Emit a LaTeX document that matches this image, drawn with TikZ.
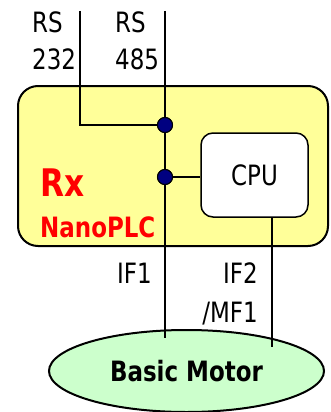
\documentclass[tikz,border=0pt]{standalone}
\usepackage{fontspec}
\setmainfont{DejaVu Sans}[FakeStretch=0.82]
\usetikzlibrary{shapes.geometric}
\definecolor{plcyellow}{HTML}{FFFF99}
\definecolor{motorgreen}{HTML}{CCFFCC}
\definecolor{dotblue}{HTML}{000080}
\begin{document}
\begin{tikzpicture}[
        x=1pt, y=-1pt,
        every node/.style={font=\fontsize{28}{32}\selectfont, inner sep=0pt},
        plcbox/.style={draw, line width=2pt, fill=plcyellow, rounded corners=20pt,
                       minimum width=310pt, minimum height=160pt},
        cpubox/.style={draw, line width=1.5pt, fill=white, rounded corners=12pt,
                       minimum width=107pt, minimum height=84pt},
        motor/.style={draw, ellipse, line width=2pt, fill=motorgreen,
                      minimum width=275pt, minimum height=82pt, font=\fontsize{28}{32}\selectfont\bfseries},
        plclabel/.style={text=red, font=\bfseries\fontsize{28}{32}\selectfont},
        wire/.style={draw, line width=1.2pt},
        junction/.style={circle, draw, line width=1pt, fill=dotblue, minimum size=15pt},
    ]
    \useasboundingbox (0,0) rectangle (331,412);
    % boxes
    \node[plcbox](plc) at (173,166){};
    \node[cpubox](cpu) at (254.5,175){CPU};
    \node[motor](bm) at (186.5,371){Basic Motor};
    \node[plclabel, anchor=base west, font=\bfseries\fontsize{38}{42}\selectfont](rx) at (40,196){Rx};
    \node[plclabel, anchor=base west](nano) at (40,237){NanoPLC};
    % port labels
    \node[anchor=base west](rs1) at (32,33){RS};
    \node[anchor=base west](n232) at (32,70){232};
    \node[anchor=base west](rs2) at (115,33){RS};
    \node[anchor=base west](n485) at (115,70){485};
    \node[anchor=base east](if1) at (152,283){IF1};
    \node[anchor=base east](if2) at (258,283){IF2};
    \node[anchor=base east](mf1) at (258,322){/MF1};
    % wires
    \coordinate (t232) at (80,11);
    \coordinate (t485) at (165,11);
    \coordinate (m1) at (165,338);
    \coordinate (m2) at (272,347);
    \node[junction](j1) at (165,125){};
    \node[junction](j2) at (165,177){};
    \draw[wire] (t232) |- (j1.center);
    \draw[wire] (t485) -- (m1);
    \draw[wire] (j2.center) -- (cpu.west |- j2);
    \draw[wire] (cpu.south -| m2) -- (m2);
    \node[junction] at (j1){};
    \node[junction] at (j2){};
\end{tikzpicture}
\end{document}
